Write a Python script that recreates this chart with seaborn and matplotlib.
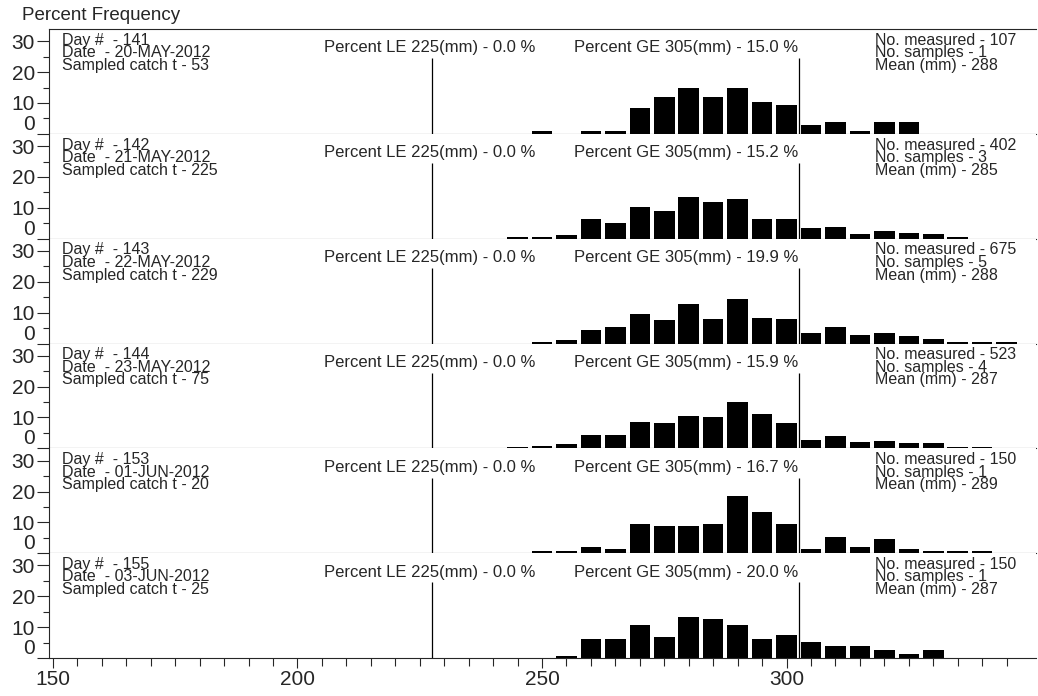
import matplotlib
matplotlib.use('Agg')
import matplotlib.pyplot as plt
import seaborn as sns

# length bins (mm) and percent frequency per sample day
bins = [245, 250, 255, 260, 265, 270, 275, 280, 285, 290, 295, 300,
        305, 310, 315, 320, 325, 330, 335, 340, 345]
p141 = [0, 0.9, 0, 0.9, 0.9, 8.4, 12.1, 15.0, 12.1, 15.0, 10.3, 9.3,
        2.8, 3.7, 0.9, 3.7, 3.7, 0, 0, 0, 0]
p142 = [0.5, 0.7, 1.2, 6.5, 5.0, 10.4, 9.0, 13.4, 12.0, 12.9, 6.4, 6.5,
        3.5, 3.7, 1.5, 2.5, 1.7, 1.5, 0.7, 0, 0]
p143 = [0, 0.6, 1.0, 4.4, 5.3, 9.7, 7.6, 12.9, 8.0, 14.3, 8.2, 7.8,
        3.3, 5.3, 2.6, 3.3, 2.3, 1.5, 0.6, 0.6, 0.4]
p144 = [0.4, 0.9, 1.3, 4.3, 4.3, 8.5, 8.2, 10.6, 10.3, 15.0, 11.2, 8.3,
        2.8, 4.1, 2.2, 2.4, 1.7, 1.8, 0.4, 0.4, 0]
p153 = [0, 0.7, 0.7, 2.0, 1.3, 9.3, 8.7, 8.7, 9.3, 18.7, 13.3, 9.3,
        1.3, 5.3, 2.0, 4.7, 1.3, 0.7, 0.7, 0.7, 0]
p155 = [0, 0, 0.7, 6.0, 6.0, 10.7, 6.7, 13.3, 12.7, 10.7, 6.0, 7.3,
        5.3, 4.0, 4.0, 2.7, 1.3, 2.7, 0, 0, 0]
freqs = [p141, p142, p143, p144, p153, p155]

days = [141, 142, 143, 144, 153, 155]
dates = ['20-MAY-2012', '21-MAY-2012', '22-MAY-2012', '23-MAY-2012',
         '01-JUN-2012', '03-JUN-2012']
catch = [53, 225, 229, 75, 20, 25]
pct_le = [0.0, 0.0, 0.0, 0.0, 0.0, 0.0]
pct_ge = [15.0, 15.2, 19.9, 15.9, 16.7, 20.0]
n_meas = [107, 402, 675, 523, 150, 150]
n_samp = [1, 3, 5, 4, 1, 1]
means = [288, 285, 288, 287, 289, 287]

sns.set_style('ticks')
plt.rcParams['font.family'] = ['Liberation Sans', 'DejaVu Sans']
plt.rcParams['axes.linewidth'] = 0.8

fig, axes = plt.subplots(6, 1, figsize=(10.38, 6.96), dpi=100, sharex=True)
fig.subplots_adjust(left=49/1038, right=1036/1038, top=1-29/696,
                    bottom=1-658/696, hspace=0)

fs = 11.5
for i, ax in enumerate(axes):
    sns.barplot(x=bins, y=freqs[i], native_scale=True, color='black',
                saturation=1, width=0.84, linewidth=0, ax=ax)
    ax.vlines([227.5, 302.5], 0, 24.5, color='black', lw=0.9)
    ax.set_xlim(149.2, 351)
    ax.set_ylim(0, 34)
    ax.set_yticks([0, 10, 20, 30])
    ax.set_yticks([5, 15, 25], minor=True)
    ax.tick_params(axis='y', which='major', direction='out', length=9,
                   width=0.8, labelsize=15, pad=1)
    ax.tick_params(axis='y', which='minor', direction='out', length=4.5,
                   width=0.8)
    ax.get_yticklabels()[0].set_va('bottom')
    ax.spines['right'].set_visible(False)
    if i > 0:
        ax.spines['top'].set_visible(False)
    if i < 5:
        ax.tick_params(axis='x', which='both', bottom=False, labelbottom=False)
    ax.set_xlabel('')
    ax.set_ylabel('')

    xt = ax.get_xaxis_transform()
    left_block = (f'Day #  - {days[i]}\n'
                  f'Date  - {dates[i]}\n'
                  f'Sampled catch t - {catch[i]}')
    ax.text(151.8, 0.965, left_block, transform=xt, fontsize=fs,
            va='top', linespacing=0.8)
    ax.text(227.1, 0.82, f'Percent LE 225(mm) - {pct_le[i]:.1f} %',
            transform=xt, fontsize=12, va='center', ha='center')
    ax.text(256.6, 0.82, f'Percent GE 305(mm) - {pct_ge[i]:.1f} %',
            transform=xt, fontsize=12, va='center')
    right_block = (f'No. measured - {n_meas[i]}\n'
                   f'No. samples - {n_samp[i]}\n'
                   f'Mean (mm) - {means[i]}')
    ax.text(318.1, 0.965, right_block, transform=xt, fontsize=fs,
            va='top', linespacing=0.8)

axb = axes[-1]
axb.set_xticks([150, 200, 250, 300])
axb.set_xticks(list(range(155, 350, 5)), minor=True)
axb.tick_params(axis='x', which='major', direction='out', length=7,
                width=0.8, labelsize=15, pad=2)
axb.tick_params(axis='x', which='minor', direction='out', length=6,
                width=0.8)

fig.text(22/1038, 1-16/696, 'Percent Frequency', fontsize=13.5, va='center')

plt.savefig('out.png', dpi=100)
